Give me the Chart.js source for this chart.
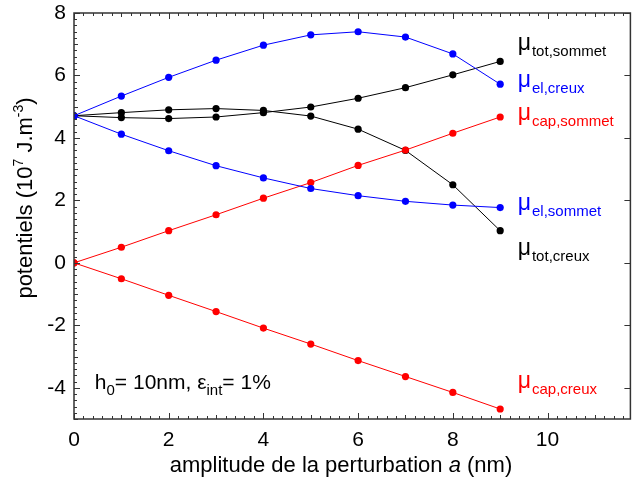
<!DOCTYPE html>
<html><head><meta charset="utf-8">
<script src="https://cdn.jsdelivr.net/npm/chart.js@4"></script>
<style>html,body{margin:0;padding:0;background:#fff}#wrap{width:634px;height:481px}</style>
</head><body><div id="wrap"><canvas id="c" width="634" height="481"></canvas></div>
<script>
const amplitude = [0,1,2,3,4,5,6,7,8,9];
const muElCreux = [4.71,5.34,5.94,6.49,6.97,7.30,7.40,7.23,6.69,5.72];
const muElSommet = [4.71,4.12,3.59,3.11,2.72,2.38,2.15,1.97,1.85,1.77];
const muTotSommet = [4.71,4.65,4.62,4.67,4.81,4.99,5.27,5.61,6.02,6.45];
const muTotCreux = [4.71,4.81,4.90,4.94,4.88,4.70,4.28,3.60,2.50,1.03];
const muCapSommet = [0,0.50,1.03,1.54,2.07,2.57,3.12,3.61,4.15,4.67];
const muCapCreux = [0,-0.51,-1.04,-1.56,-2.09,-2.60,-3.13,-3.64,-4.15,-4.68];
const xTicks = [0,2,4,6,8,10];
const yTicks = [-4,-2,0,2,4,6,8];
const BLUE = '#0000ff', RED = '#ff0000', BLACK = '#000000';
const FONT = '"Liberation Sans", Arial, sans-serif';

// series labels: subscript text, colour, anchor in data units (x, baseline y)
const seriesLabels = [
  {sub:'tot,sommet', color:BLACK, x:9.37, y:6.80},
  {sub:'el,creux',   color:BLUE,  x:9.37, y:5.62},
  {sub:'cap,sommet', color:RED,   x:9.37, y:4.56},
  {sub:'el,sommet',  color:BLUE,  x:9.37, y:1.70},
  {sub:'tot,creux',  color:BLACK, x:9.37, y:0.25},
  {sub:'cap,creux',  color:RED,   x:9.37, y:-4.00}
];

function mk(ys, color){
  return {data: amplitude.map((a,i)=>({x:a,y:ys[i]})), borderColor:color, backgroundColor:color,
    borderWidth:1, pointRadius:3.6, pointHoverRadius:3.6, pointBorderWidth:0, tension:0, fill:false};
}

const framePlugin = {
  id:'frame',
  afterDraw(chart){
    const ctx = chart.ctx, a = chart.chartArea, xs = chart.scales.x, ys = chart.scales.y;
    ctx.save();
    ctx.strokeStyle = '#333'; ctx.lineWidth = 1.5;
    ctx.strokeRect(a.left, a.top, a.right-a.left, a.bottom-a.top);
    ctx.lineWidth = 1;
    ctx.beginPath();
    for (let v=0; v<=xs.max+1e-9; v+=0.2){
      const r = Math.round(v*10)/10;
      const px = Math.round(xs.getPixelForValue(r))+0.5;
      const major = Math.abs(r/2-Math.round(r/2))<1e-6;
      const mid = !major && Math.abs(r-Math.round(r))<1e-6;
      const L = major?6:(mid?4:3);
      ctx.moveTo(px,a.bottom); ctx.lineTo(px,a.bottom-L);
      ctx.moveTo(px,a.top); ctx.lineTo(px,a.top+L);
    }
    for (let v=ys.min; v<=ys.max+1e-9; v+=0.2){
      const r = Math.round(v*10)/10;
      const py = Math.round(ys.getPixelForValue(r))+0.5;
      const major = Math.abs(r/2-Math.round(r/2))<1e-6;
      const mid = !major && Math.abs(r-Math.round(r))<1e-6;
      const L = major?6:(mid?4:3);
      ctx.moveTo(a.left,py); ctx.lineTo(a.left+L,py);
      if (major){ ctx.moveTo(a.right,py); ctx.lineTo(a.right-L,py); }
    }
    ctx.stroke();

    ctx.fillStyle = '#000';
    ctx.textBaseline = 'alphabetic';
    const main = 21, title = 22;
    const p1 = 'amplitude de la perturbation ', p2 = 'a', p3 = ' (nm)';
    ctx.font = title+'px '+FONT;
    const w1 = ctx.measureText(p1).width, w3 = ctx.measureText(p3).width;
    ctx.font = 'italic '+title+'px '+FONT;
    const w2 = ctx.measureText(p2).width;
    const xs0 = 341 - (w1+w2+w3)/2;
    const yb = 472;
    ctx.font = title+'px '+FONT; ctx.textAlign='left';
    ctx.fillText(p1, xs0, yb);
    ctx.font = 'italic '+title+'px '+FONT; ctx.fillText(p2, xs0+w1, yb);
    ctx.font = title+'px '+FONT; ctx.fillText(p3, xs0+w1+w2, yb);

    ctx.save();
    ctx.translate(32, 198);
    ctx.rotate(-Math.PI/2);
    const parts = [['potentiels (10',title,0],['7',14,-9],[' J.m',title,0],['-3',14,-9],[')',title,0]];
    let tw = 0;
    parts.forEach(p=>{ctx.font=p[1]+'px '+FONT; p.w=ctx.measureText(p[0]).width; tw+=p.w;});
    let cx = -tw/2;
    parts.forEach(p=>{ctx.font=p[1]+'px '+FONT; ctx.fillText(p[0], cx, p[2]); cx+=p.w;});
    ctx.restore();

    const ax = xs.getPixelForValue(0.44), ay = ys.getPixelForValue(-4.05);
    const ann = [['h',main,0],['0',15,6],['= 10nm, ',main,0],['ε',main,0],['int',15,6],['= 1%',main,0]];
    let ux = ax;
    ann.forEach(p=>{ctx.font=p[1]+'px '+FONT; ctx.fillText(p[0], ux, ay+p[2]); ux+=ctx.measureText(p[0]).width;});

    seriesLabels.forEach(l=>{
      const lx = xs.getPixelForValue(l.x), ly = ys.getPixelForValue(l.y);
      ctx.fillStyle = l.color;
      ctx.font = '23px '+FONT;
      ctx.fillText('μ', lx, ly);
      const mw = ctx.measureText('μ').width;
      ctx.font = '15px '+FONT;
      ctx.fillText(l.sub, lx+mw+1, ly+6);
    });
    ctx.restore();
  }
};

new Chart(document.getElementById('c'), {
  type:'line',
  data:{datasets:[
    mk(muElCreux,BLUE), mk(muElSommet,BLUE),
    mk(muCapSommet,RED), mk(muCapCreux,RED),
    mk(muTotSommet,BLACK), mk(muTotCreux,BLACK)
  ]},
  options:{
    responsive:false, devicePixelRatio:1, animation:false,
    layout:{padding:{left:0,right:3,top:13,bottom:0}},
    plugins:{legend:{display:false}, tooltip:{enabled:false}},
    scales:{
      x:{type:'linear', min:0, max:11.75,
        afterBuildTicks:s=>{s.ticks = xTicks.map(v=>({value:v}));},
        afterFit:s=>{s.height = 62; s.paddingLeft = 0; s.paddingRight = 0;},
        grid:{display:false, drawTicks:false}, border:{display:false},
        ticks:{color:'#000', font:{size:21, family:FONT}, padding:9, maxRotation:0}},
      y:{type:'linear', min:-5, max:8,
        afterBuildTicks:s=>{s.ticks = yTicks.map(v=>({value:v}));},
        afterFit:s=>{s.width = 74; s.paddingTop = 0; s.paddingBottom = 0;},
        grid:{display:false, drawTicks:false}, border:{display:false},
        ticks:{color:'#000', font:{size:21, family:FONT}, padding:8}}
    }
  },
  plugins:[framePlugin]
});
</script></body></html>
